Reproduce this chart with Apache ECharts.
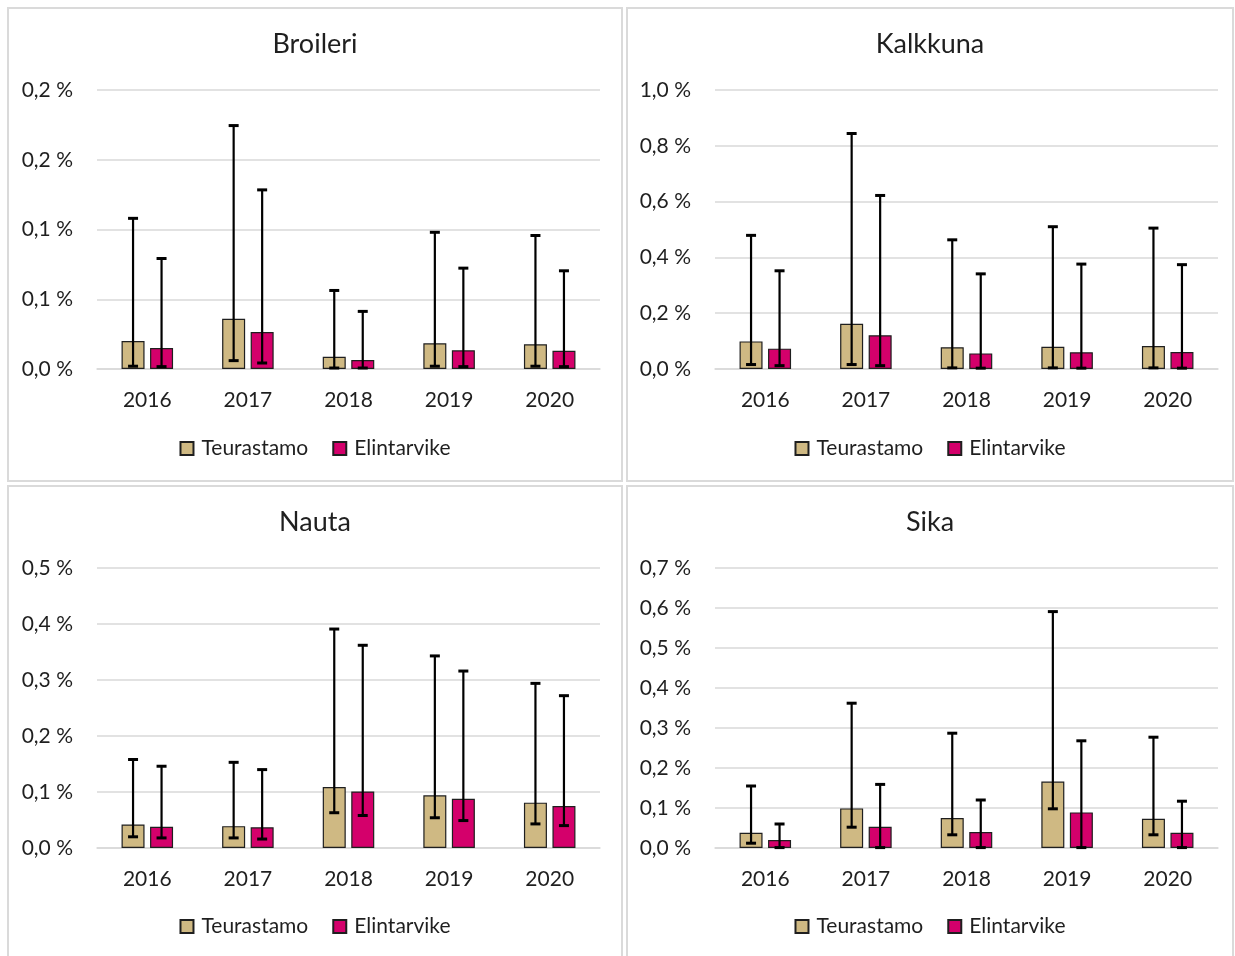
<!DOCTYPE html>
<html>
<head>
<meta charset="utf-8">
<script src="https://cdn.jsdelivr.net/npm/echarts@6/dist/echarts.min.js"></script>
<style>
  html, body { margin: 0; padding: 0; background: #ffffff; }
  body { width: 1235px; height: 956px; position: relative; overflow: hidden; }
  .panel { position: absolute; box-sizing: border-box; border: 2px solid #dadada; background: #fff; }
</style>
</head>
<body>
<div id="p1" class="panel" style="left:7px;top:7px;width:616px;height:475px;"></div>
<div id="p2" class="panel" style="left:626px;top:7px;width:608px;height:475px;"></div>
<div id="p3" class="panel" style="left:7px;top:485px;width:616px;height:473px;"></div>
<div id="p4" class="panel" style="left:626px;top:485px;width:608px;height:473px;"></div>
<script>
// ---- data (values in %) ----
const years = ['2016', '2017', '2018', '2019', '2020'];
const seriesNames = ['Teurastamo', 'Elintarvike'];

// Broileri
const broileriT     = [0.020, 0.036, 0.0088, 0.0184, 0.0177];
const broileriTLow  = [0.002, 0.006, 0.0007, 0.002, 0.002];
const broileriTHigh = [0.108, 0.1745, 0.0563, 0.098, 0.0957];
const broileriE     = [0.015, 0.0265, 0.0064, 0.0134, 0.0131];
const broileriELow  = [0.0017, 0.0043, 0.0007, 0.0017, 0.0017];
const broileriEHigh = [0.0792, 0.1284, 0.0413, 0.0723, 0.0704];
const broileriTicks = ['0,0 %', '0,1 %', '0,1 %', '0,2 %', '0,2 %'];

// Kalkkuna
const kalkkunaT     = [0.099, 0.162, 0.078, 0.080, 0.082];
const kalkkunaTLow  = [0.016, 0.016, 0.004, 0.004, 0.004];
const kalkkunaTHigh = [0.479, 0.844, 0.463, 0.510, 0.505];
const kalkkunaE     = [0.073, 0.121, 0.056, 0.060, 0.061];
const kalkkunaELow  = [0.012, 0.012, 0.003, 0.003, 0.003];
const kalkkunaEHigh = [0.352, 0.622, 0.341, 0.376, 0.374];
const kalkkunaTicks = ['0,0 %', '0,2 %', '0,4 %', '0,6 %', '0,8 %', '1,0 %'];

// Nauta
const nautaT     = [0.042, 0.039, 0.109, 0.094, 0.081];
const nautaTLow  = [0.020, 0.018, 0.063, 0.054, 0.043];
const nautaTHigh = [0.158, 0.153, 0.391, 0.343, 0.294];
const nautaE     = [0.038, 0.037, 0.101, 0.088, 0.075];
const nautaELow  = [0.018, 0.016, 0.058, 0.049, 0.040];
const nautaEHigh = [0.146, 0.140, 0.362, 0.316, 0.272];
const nautaTicks = ['0,0 %', '0,1 %', '0,2 %', '0,3 %', '0,4 %', '0,5 %'];

// Sika
const sikaT     = [0.038, 0.099, 0.075, 0.166, 0.073];
const sikaTLow  = [0.012, 0.052, 0.033, 0.098, 0.033];
const sikaTHigh = [0.155, 0.362, 0.287, 0.591, 0.277];
const sikaE     = [0.020, 0.053, 0.040, 0.089, 0.038];
const sikaELow  = [0.001, 0.001, 0.001, 0.001, 0.001];
const sikaEHigh = [0.060, 0.159, 0.120, 0.268, 0.117];
const sikaTicks = ['0,0 %', '0,1 %', '0,2 %', '0,3 %', '0,4 %', '0,5 %', '0,6 %', '0,7 %'];

// ---- styling ----
const FONT = 'Lato, "Open Sans", sans-serif';
const TEXT = '#1f1f1f';
const COL_T = '#CFB983';
const COL_E = '#D4006B';
const BAR_W = 23;
const BAR_GAP_PX = 5.5;

function errorSeries(low, high, sign) {
  const data = low.map((l, i) => [i, l, high[i]]);
  return {
    type: 'custom',
    silent: true,
    z: 10,
    data: data,
    encode: { x: 0, y: [1, 2] },
    renderItem: function (params, api) {
      const off = sign * (BAR_W + BAR_GAP_PX) / 2;
      const pLow = api.coord([api.value(0), api.value(1)]);
      const pHigh = api.coord([api.value(0), api.value(2)]);
      const x = pLow[0] + off;
      const cap = 5;
      const st = { stroke: '#000', lineWidth: 2.2 };
      const capSt = { stroke: '#000', lineWidth: 3 };
      return {
        type: 'group',
        children: [
          { type: 'line', shape: { x1: x, y1: pLow[1], x2: x, y2: pHigh[1] }, style: st },
          { type: 'line', shape: { x1: x - cap, y1: pHigh[1], x2: x + cap, y2: pHigh[1] }, style: capSt },
          { type: 'line', shape: { x1: x - cap, y1: pLow[1], x2: x + cap, y2: pLow[1] }, style: capSt }
        ]
      };
    }
  };
}

function makeOption(title, ticks, max, interval, T, TLow, THigh, E, ELow, EHigh, gridLeft, gridHeight) {
  return {
    animation: false,
    textStyle: { fontFamily: FONT },
    title: {
      text: title,
      left: 'center',
      top: 17,
      textStyle: { fontFamily: FONT, fontSize: 27, fontWeight: 'normal', color: TEXT }
    },
    legend: {
      data: seriesNames,
      left: 'center',
      top: 424,
      icon: 'rect',
      itemWidth: 13,
      itemHeight: 13,
      itemGap: 24,
      textStyle: { fontFamily: FONT, fontSize: 21, color: TEXT, padding: [0, 0, 0, 3] }
    },
    grid: { left: gridLeft, top: 81, width: 503, height: gridHeight },
    xAxis: {
      type: 'category',
      data: years,
      axisLine: { show: true, lineStyle: { color: '#d9d9d9', width: 1.5 } },
      axisTick: { show: false },
      axisLabel: { fontFamily: FONT, fontSize: 21, color: TEXT, margin: 21 }
    },
    yAxis: {
      type: 'value',
      min: 0,
      max: max,
      interval: interval,
      axisLine: { show: false },
      axisTick: { show: false },
      splitLine: { lineStyle: { color: '#d9d9d9', width: 1.5 } },
      axisLabel: {
        fontFamily: FONT, fontSize: 21, color: TEXT, margin: 24,
        formatter: function (v) { return ticks[Math.round(v / interval)]; }
      }
    },
    series: [
      {
        name: seriesNames[0], type: 'bar', data: T, barWidth: BAR_W, barGap: '24%',
        itemStyle: { color: COL_T, borderColor: '#1f1f1f', borderWidth: 1.2 }
      },
      {
        name: seriesNames[1], type: 'bar', data: E, barWidth: BAR_W, barGap: '24%',
        itemStyle: { color: COL_E, borderColor: '#1f1f1f', borderWidth: 1.2 }
      },
      errorSeries(TLow, THigh, -1),
      errorSeries(ELow, EHigh, 1)
    ]
  };
}

const c1 = echarts.init(document.getElementById('p1'));
c1.setOption(makeOption('Broileri', broileriTicks, 0.2, 0.05,
  broileriT, broileriTLow, broileriTHigh, broileriE, broileriELow, broileriEHigh, 88, 279));

const c2 = echarts.init(document.getElementById('p2'));
c2.setOption(makeOption('Kalkkuna', kalkkunaTicks, 1.0, 0.2,
  kalkkunaT, kalkkunaTLow, kalkkunaTHigh, kalkkunaE, kalkkunaELow, kalkkunaEHigh, 87, 279));

const c3 = echarts.init(document.getElementById('p3'));
c3.setOption(makeOption('Nauta', nautaTicks, 0.5, 0.1,
  nautaT, nautaTLow, nautaTHigh, nautaE, nautaELow, nautaEHigh, 88, 280));

const c4 = echarts.init(document.getElementById('p4'));
c4.setOption(makeOption('Sika', sikaTicks, 0.7, 0.1,
  sikaT, sikaTLow, sikaTHigh, sikaE, sikaELow, sikaEHigh, 87, 280));
</script>
</body>
</html>
